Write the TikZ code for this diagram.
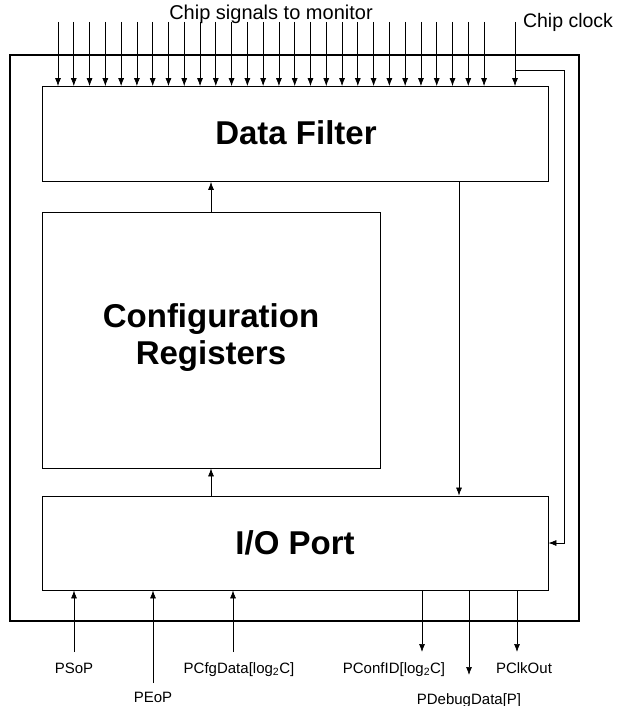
\documentclass[tikz,border=0pt]{standalone}
\usepackage{fontspec}
\setmainfont{Liberation Sans}
\usetikzlibrary{arrows.meta, positioning, calc}

\tikzset{
  blockbox/.style={draw, line width=0.8pt, inner sep=0pt},
  blocktext/.style={font=\fontsize{33}{37}\selectfont\bfseries, inner sep=0pt},
  sigline/.style={line width=0.7pt, -{Latex[length=8pt,width=6pt]}},
  siglabel/.style={font=\fontsize{15}{17}\selectfont, inner sep=0pt, anchor=base},
  toplabel/.style={font=\fontsize{20}{22}\selectfont, inner sep=0pt, anchor=base},
}

\begin{document}
\begin{tikzpicture}[x=1pt, y=-1pt]
  \useasboundingbox (0,0) rectangle (617,706);

  % Chip boundary
  \draw[line width=2.6pt] (10,55) rectangle (579,621);

  % --- Blocks ---
  \node[blockbox, minimum width=506pt, minimum height=95pt] (df) at (295,134) {};
  \node[blocktext] (dftxt) at (296,133) {Data Filter};

  \node[blockbox, minimum width=338pt, minimum height=256pt] (cfg) at (211,340) {};
  \node[blocktext, align=center] (cfgtxt) at (211,338) {Configuration\\Registers};

  \node[blockbox, minimum width=506pt, minimum height=94pt] (io) at (295,543) {};
  \node[blocktext] (iotxt) at (295,543) {I/O Port};

  % --- Chip signals to monitor ---
  \node[toplabel] (sigtxt) at (271,20) {Chip signals to monitor};
  \foreach \i in {0,...,27} {
    \coordinate (s\i) at ({58+15.78*\i},22);
    \draw[sigline] (s\i) -- (s\i |- df.north);
  }

  % --- Chip clock ---
  \node[toplabel, font=\fontsize{19.5}{21}\selectfont] (clktxt) at (568,28) {Chip clock};
  \coordinate (clk) at (515,22);
  \coordinate (clkbr) at (515,70);
  \coordinate (clkret) at (564,70);
  \draw[sigline] (clk) -- (clk |- df.north);
  \draw[sigline] (clkbr) -- (clkret) |- (io.east);

  % --- Internal connections ---
  \draw[sigline] (cfg.north) -- (cfg.north |- df.south);
  \draw[sigline] (cfg.south |- io.north) -- (cfg.south);
  \coordinate (dfout) at (459,0);
  \draw[sigline] (dfout |- df.south) -- (dfout |- io.north);

  % --- Port inputs ---
  \coordinate (psop) at (74,652);
  \coordinate (peop) at (153,683);
  \coordinate (pcfg) at (233,652);
  \draw[sigline] (psop) -- (psop |- io.south);
  \draw[sigline] (peop) -- (peop |- io.south);
  \draw[sigline] (pcfg) -- (pcfg |- io.south);
  \node[siglabel] (psoplbl) at (74,673) {PSoP};
  \node[siglabel] (peoplbl) at (153,702) {PEoP};
  \node[siglabel] (pcfglbl) at (239,673) {PCfgData[log\textsubscript{2}C]};

  % --- Port outputs ---
  \coordinate (pconf) at (422,652);
  \coordinate (pdbg) at (469,675);
  \coordinate (pclk) at (517,652);
  \draw[sigline] (pconf |- io.south) -- (pconf);
  \draw[sigline] (pdbg |- io.south) -- (pdbg);
  \draw[sigline] (pclk |- io.south) -- (pclk);
  \node[siglabel] (pconflbl) at (394,673) {PConfID[log\textsubscript{2}C]};
  \node[siglabel] (pdbglbl) at (469,704) {PDebugData[P]};
  \node[siglabel] (pclklbl) at (524,673) {PClkOut};
\end{tikzpicture}
\end{document}
